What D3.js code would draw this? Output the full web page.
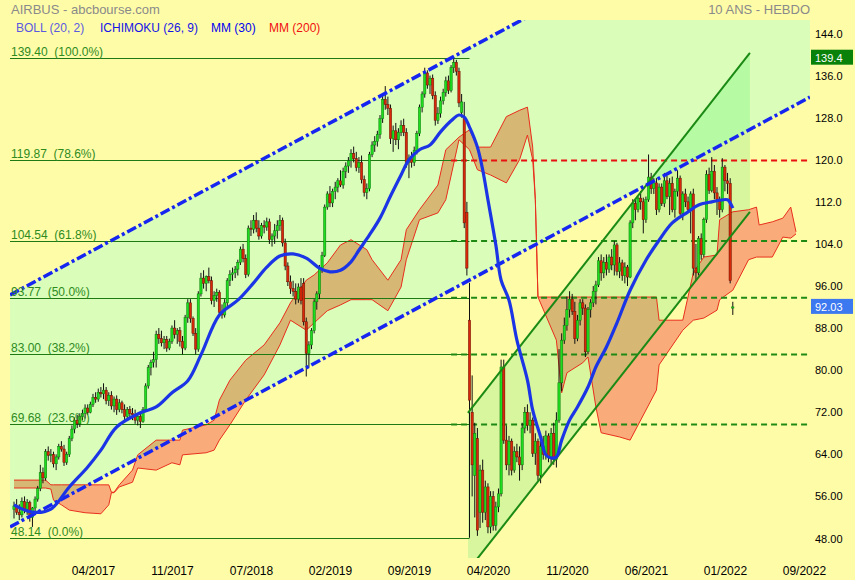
<!DOCTYPE html>
<html><head><meta charset="utf-8">
<script src="https://cdn.jsdelivr.net/npm/d3@7"></script>
<style>body{margin:0;background:#FFFCA8;}svg{display:block;}text{white-space:pre;}</style>
</head><body><svg id="c" width="855" height="580"></svg>
<script>
// ---------------- DATA ----------------
const open = [
53.5,54.2,53,52.5,55,53.5,54.8,52,53.8,55.5,
57.5,60.5,59.5,64.5,63.8,64,62.2,63.5,65.5,65,
62.5,64,67,68.8,70.5,69.8,71.2,71.8,72.8,72,
73.5,74.8,74.5,75.8,75.5,76.2,74.2,75.2,73.2,74.5,
72.5,73.8,72.5,71.2,72.5,71.8,71.5,70.5,71.2,70.2,
72.5,77,80.5,81.5,82,86.8,86,85.2,85.8,84.2,
85.5,88,86.8,87.5,85.5,84.2,90,92.8,89.8,87,
84,94.5,97.5,96.5,97.8,97,93.2,94.2,94.8,91,
90.5,92.8,97,98.2,98.5,99.2,100.5,103,101.2,98.2,
107,106.8,108.5,107,105.5,107.5,107.2,108.2,104.8,105.5,
106.5,107.5,108.5,104.2,99.8,96.8,95.5,95,93.5,95.8,
96.5,89.2,83.2,84.8,87.5,93,94.5,99.4,101.8,111,
113.5,111.8,114,114.8,116,115.2,117.8,118.8,119.8,121.2,
120.2,118.5,119.5,116.2,113.8,114.5,121,122.8,123.5,124.8,
127.8,131.5,130.5,129.8,124,125.5,123.8,125.2,126.5,125.2,
119.5,120.2,119.5,121.8,125,130,132.5,136.5,134.2,135.5,
132.2,127.5,128.8,131.2,132.8,135,133.2,137.5,138.5,136.8,
129,128,110,89.5,72,60,67,53,61,53,
57.8,50.2,56,50.5,54,56.5,80.6,66.7,62,66.5,
61,64.5,63.5,62,69,72,69.5,70.5,64.2,66.5,
60,65.5,64,67.5,63.5,68,63,70.5,77.6,85.7,
88.5,91.5,93.5,91.2,86,89.5,92.8,91.8,83.5,91.5,
92.8,95,96.2,100.8,98.5,100.5,99.2,101.5,100,103.8,
98.8,100.4,98,99.6,97.7,108,111.7,110.5,112.7,112,
108.6,112.4,116.7,114.5,115.6,110.5,114.8,111.7,116,113,
115.5,110.5,114,116.5,109.8,113.5,112,110.5,113.5,99.4,
98.5,105,102,108.6,117.2,114.2,117.8,113.7,112.4,110.5,
118.6,116,115.5,91.8];
const high = [
55,55.5,54.5,55.8,56,55.5,55.2,54,56,58,
62,61.5,65,65.5,65,64.5,64,66,66.5,65.8,
64.5,67.5,69.5,71,71.5,71.8,72.5,73.5,73.5,74,
75.5,75.8,76.5,76.8,77.5,76.8,75.8,76,75,75.2,
74.5,74.2,73.5,73,73.2,72.8,72.5,71.8,72,73,
77.5,81,82,83.5,87.5,88,87.5,86.5,86.5,86,
88.5,89.5,88,88.2,86.5,90.5,93.5,93.5,90.2,88,
95,98.5,99,98,99.5,97.8,95,95.5,95.2,92.5,
93.5,97.5,99,99.5,99.8,101,103.5,104,102,107.5,
108.5,109.5,110,108.5,108,108.5,109,108.8,106,107.8,
108.5,109.5,109,105,100.5,98,97,96.5,96.5,97.5,
97.5,90,85.5,88,93.5,95,100,102.5,111.5,114,
115,114.5,115.8,116.5,118,118.5,119.5,120.5,122,122.5,
121.5,120.5,120.8,117,115.5,121.5,123.5,124.5,125.5,128.5,
132.5,134,132,130.5,126.5,127,126,127.5,127.8,126,
121,121.5,122.5,125.5,130.5,133,137.5,137,136,136.2,
133,130,132,133.5,135.8,136,138,139.4,139,137.5,
132.5,131,112,96.6,79,70,69,62,63,59,
58.5,57,57,55,57.5,82,82,69.5,67.5,67,
65.5,66,65.5,70,73,73.5,72,71,68,67,
66.5,67.5,68.5,68,69,70,72,84,87,90,
94,95,94.5,93,90.5,93.5,93.5,92.5,92,93.5,
96,97,101.5,102,101.5,102,102,103,104.5,104.2,
101.5,101,100.5,100,108.5,112.5,112.5,113,114,112.8,
113,121,117.5,116.5,116.5,115.5,115.5,117.5,117,116.5,
116.8,114.5,118,117,114,114.5,113,114,114.5,104,
105.5,106,109,118,118.5,120.5,119,114.8,113,120.3,
119,117.5,116.5,93];
const low = [
51.8,52.5,51.5,52,52.8,52.5,51.2,50.2,53,55,
57,58.5,59,62.8,62.5,61.5,61,63,64.5,61.8,
62,63.5,66.5,68,69,69.2,70.5,70.8,71.5,71.8,
73,73.8,74,74.8,74.5,73.5,73.2,72.5,72,71.5,
72,71.8,70.5,70.8,71,70.5,69.8,69.5,69,70,
72,76.5,79,80.5,80.5,85,84.5,84,83.5,83.8,
85,86,85,84.5,83,83.8,89,89,86.5,83,
83.5,94,95.5,95,96.5,92.5,92,93,90.5,89.8,
90,92,96,97,97.5,98,100,100.5,97.5,97.8,
105.5,106,106.2,104.8,105,106,106.5,104,103.5,104,
105,106.5,103.5,99,96,94.5,94,92.5,92.8,92.5,
88.5,78.8,80.5,84,87,91.5,93.5,98.5,101.5,110.5,
111,111,112.5,113.8,114.8,114.5,116.5,117.5,118.5,119.5,
117.8,117.5,115.5,113,112.5,114,120.5,121.5,122.5,124,
127,129.5,128.5,123,121.5,122.8,122,124.5,124.5,118.5,
116.5,118.5,118.8,121,124.5,129,131.8,133.5,132.5,131.5,
126.5,126.8,128,130.5,132,132.5,132.8,136.5,136,130,
128,107,98,48.14,56,52,48.5,50,51,51.5,
49,49,49.5,49.5,53,56,66,61,60,60,
60.5,62.5,59,61,68,68.5,68,63.5,62,59,
58.5,63,63,62.5,62,62,61.5,70,76,85,
87.5,90,90.5,85,85.5,88.5,90.5,82.5,83,90,
92,92.5,95.8,97,97.5,98,98.5,99,98,98,
97.5,97,96.5,96,97.5,107,108.5,110,110.5,106,
108,112,113.5,113.5,109.5,110,111.2,111,112.5,109.5,
110,109,113,109.5,108.5,111,110,106,98,97,
98,101,101.5,108,113.5,113.8,112.5,109.5,109,110,
114,113.5,96.5,90.5];
const close = [
54.2,53,52.5,55,53.5,54.8,52,53.8,55.5,57.5,
60.5,59.5,64.5,63.8,64,62.2,63.5,65.5,65,62.5,
64,67,68.8,70.5,69.8,71.2,71.8,72.8,72,73.5,
74.8,74.5,75.8,75.5,76.2,74.2,75.2,73.2,74.5,72.5,
73.8,72.5,71.2,72.5,71.8,71.5,70.5,71.2,70.2,72.5,
77,80.5,81.5,82,86.8,86,85.2,85.8,84.2,85.5,
88,86.8,87.5,85.5,84.2,90,92.8,89.8,87,84,
94.5,97.5,96.5,97.8,97,93.2,94.2,94.8,91,90.5,
92.8,97,98.2,98.5,99.2,100.5,103,101.2,98.2,107,
106.8,108.5,107,105.5,107.5,107.2,108.2,104.8,105.5,106.5,
107.5,108.5,104.2,99.8,96.8,95.5,95,93.5,95.8,93.2,
89.2,83.2,84.8,87.5,93,94.5,99.4,101.8,111,113.5,
111.8,114,114.8,116,115.2,117.8,118.8,119.8,121.2,120.2,
118.5,119.5,116.2,113.8,114.5,121,122.8,123.5,124.8,127.8,
131.5,130.5,129.8,124,125.5,123.8,125.2,126.5,125.2,119.5,
120.2,119.5,121.8,125,130,132.5,136.5,134.2,135.5,132.2,
127.5,128.8,131.2,132.8,135,133.2,137.5,138.5,136.8,130.8,
131,108,99.4,74.3,62,68,49.6,61,53,57.8,
50.2,56,50.5,54,56.5,80.6,66.7,62,66.5,61,
64.5,63.5,62,69,72,69.5,70.5,64.2,66.5,60,
65.5,64,67.5,63.5,68,63,70.5,77.6,85.7,88.5,
91.5,93.5,91.2,86,89.5,92.8,91.8,83.5,91.5,92.8,
95,96.2,100.8,98.5,100.5,99.2,101.5,100,103.8,98.8,
100.4,98,99.6,97.7,108,111.7,110.5,112.7,112,108.6,
112.4,116.7,114.5,115.6,110.5,114.8,111.7,116,113,115.5,
110.5,114,116.5,109.8,113.5,112,110.5,113.5,99.4,98.5,
105,102,108.6,117.2,114.2,117.8,113.7,112.4,110.5,118.6,
116,115.5,97,92.03];

// Moving average MM(30): [week index, value]
const ma30 = [[0,54.4],[7,53],[14,53.6],[21,57.8],[28,61.6],[33,64.8],[39,69.2],[48,71.9],[54,73],[60,75.7],[66,78],[71,82.9],[78,90.5],[85,93.3],[91,96.6],[96,99.6],[101,101.7],[106,102.1],[111,101.3],[116,99.4],[120,98.7],[124,99],[128,100.6],[131,102.8],[135,105.7],[139,108.9],[143,113.1],[147,117.1],[150,120],[154,121.9],[158,122.8],[162,125.3],[166,127.4],[169,128.5],[171,128.1],[173,126.2],[176,122.4],[178,118.1],[180,112.4],[183,103.8],[185,97.1],[188,93.3],[191,85.7],[195,78.1],[197,72.4],[200,67.3],[202,63.9],[204,63.3],[206,63.5],[208,66.7],[211,70.5],[214,73],[218,76.8],[221,80.6],[225,84.4],[229,89],[234,95.2],[240,100.9],[245,104.7],[250,108],[256,110.1],[260,111.4],[265,112],[271,112.4],[272,111.8],[273,110.8]];

// Ichimoku cloud (26, 9), projected 26 weeks ahead
const cloudIdx = [0,12,14,15,18,21,27,33,36,37,38,40,45,47,54,60,63,64,73,76,78,82,88,95,101,105,111,114,119,124,128,134,136,142,147,149,154,161,164,169,173,176,181,187,192,195,197,198,199,206,208,210,216,218,221,223,230,234,244,245,254,258,262,267,268,273,279,282,283,288,292,295,297];
const spanA = [59.1,59.1,58.2,58.2,58.2,58.2,58.2,58.2,58.2,56.8,56.8,58.2,61.0,63.9,66.7,66.7,66.7,68.6,69.6,70.5,74.3,78.1,81.9,84.8,89.0,92.8,97.1,98.1,100.4,103.8,104.8,102.9,101.0,97.1,101.0,106.7,110.5,115.2,121.9,124.3,125.7,122.4,122.4,128.2,129.4,130.0,122.4,112.4,93.9,93.9,93.9,93.9,93.9,93.9,93.9,93.9,93.9,93.9,93.9,89.5,89.5,98.5,101.5,101.9,108.6,110.1,110.5,111.0,107.6,108.2,108.9,111.0,106.3];
const spanB = [57.6,57.6,57.4,55.3,54.4,53.4,52.9,52.7,54.4,56.7,56.7,57.8,58.7,61.4,61.0,62.4,62.0,63.9,64.3,64.8,66.7,69.6,74.3,79.1,84.8,89.5,87.6,89.0,91.3,92.4,93.4,93.4,93.4,91.3,95.8,101.0,108.6,109.9,112.4,123.8,121.9,118.1,117.1,115.6,120.0,124.7,120.0,112.4,93.9,85.7,75.7,79.5,81.4,82.5,73.0,68.1,67.3,66.7,76.2,81.0,87.6,89.5,89.9,91.4,93.4,95.2,101.0,101.5,101.5,101.5,105.3,105.1,105.9];

// Fibonacci retracement (low 48.14 -> high 139.40)
const fibLevels = [139.40, 119.87, 104.54, 93.77, 83.00, 69.68, 48.14];
const fibPct = ["100.0%", "78.6%", "61.8%", "50.0%", "38.2%", "23.6%", "0.0%"];
const fibEndIdx = 173;
// horizontal dashed levels
const levelValues = [119.87, 104.54, 93.77, 83.00, 69.68];
const levelKind = ["res", "sup", "sup", "sup", "sup"];
const levelStartIdx = 166;
// trend channels: [startIdx, startVal, endIdx, endVal]
const blueLower = [-1.5, 50.2, 302.3, 131.9];
const blueUpper = [-1.5, 94.3, 302.3, 176.0];
const greenLower = [172.4, 41.9, 279.5, 110.1];
const greenUpper = [172.4, 71.9, 279.5, 140.3];

const yTicks = [144, 136, 128, 120, 112, 104, 96, 88, 80, 72, 64, 56, 48];
const yTickLabels = ["144.0","136.0","128.0","120.0","112.0","104.0","96.00","88.00","80.00","72.00","64.00","56.00","48.00"];
const xTickIdx = [30, 60, 90, 120, 150, 180, 210, 240, 270, 300];
const xTickLabels = ["04/2017","11/2017","07/2018","02/2019","09/2019","04/2020","11/2020","06/2021","01/2022","09/2022"];
const lastPrice = 92.03;
const highTag = 139.4;
const legendItems = ["BOLL (20, 2)", "ICHIMOKU (26, 9)", "MM (30)", "MM (200)"];

// ---------------- CHART ----------------
const W = 855, H = 580;
const plot = {l: 10, r: 810, t: 20, b: 558};
const svg = d3.select("#c");
const x = d3.scaleLinear().domain([0, 300]).range([14, 803.9]);
const y = d3.scaleLinear().domain([48, 144]).range([538.5, 33.5]);

const defs = svg.append("defs");
defs.append("clipPath").attr("id", "plotClip").append("rect")
  .attr("x", plot.l).attr("y", plot.t).attr("width", plot.r - plot.l).attr("height", plot.b - plot.t);
const chanPoly = (lo, hi) => [[x(lo[0]), y(lo[1])], [x(lo[2]), y(lo[3])], [x(hi[2]), y(hi[3])], [x(hi[0]), y(hi[1])]];
const bluePts = chanPoly(blueLower, blueUpper);
const greenPts = chanPoly(greenLower, greenUpper);
defs.append("clipPath").attr("id", "blueClip").append("polygon").attr("points", bluePts.join(" "));
defs.append("clipPath").attr("id", "greenClip").append("polygon").attr("points", greenPts.join(" "));

svg.append("rect").attr("width", W).attr("height", H).attr("fill", "#FFFCA8");
const g = svg.append("g").attr("clip-path", "url(#plotClip)");

// channel fills
g.append("polygon").attr("points", bluePts.join(" ")).attr("fill", "#DAFDBA");
g.append("polygon").attr("points", greenPts.join(" ")).attr("fill", "#D7F69D");
g.append("g").attr("clip-path", "url(#blueClip)")
  .append("polygon").attr("points", greenPts.join(" ")).attr("fill", "#B6FBA4");

// cloud
const cloudData = cloudIdx.map((d, i) => ({i: d, a: spanA[i], b: spanB[i]}));
const area = d3.area().x(d => x(d.i)).y0(d => y(d.a)).y1(d => y(d.b));
g.append("path").attr("d", area(cloudData)).attr("fill", "#F9AB7A");
g.append("g").attr("clip-path", "url(#blueClip)").append("path").attr("d", area(cloudData)).attr("fill", "#D6B874");
g.append("g").attr("clip-path", "url(#greenClip)").append("path").attr("d", area(cloudData)).attr("fill", "#D6B874");
const lineA = d3.line().x(d => x(d.i)).y(d => y(d.a));
const lineB = d3.line().x(d => x(d.i)).y(d => y(d.b));
g.append("path").attr("d", lineA(cloudData)).attr("fill", "none").attr("stroke", "#E8301E").attr("stroke-width", 1);
g.append("path").attr("d", lineB(cloudData)).attr("fill", "none").attr("stroke", "#E8301E").attr("stroke-width", 1);

// fib lines
fibLevels.forEach((v, k) => {
  g.append("line").attr("x1", plot.l).attr("x2", x(fibEndIdx)).attr("y1", Math.round(y(v)) + 0.5).attr("y2", Math.round(y(v)) + 0.5)
    .attr("stroke", "#1F7A14").attr("stroke-width", 1);
  svg.append("text").attr("x", 11).attr("y", Math.round(y(v)) - 2)
    .attr("font-family", "Liberation Sans, Arial, sans-serif").attr("font-size", 12).attr("fill", "#2E8B1E")
    .text(v.toFixed(2) + "  (" + fibPct[k] + ")");
});
// dashed levels
levelValues.forEach((v, k) => {
  g.append("line").attr("x1", x(levelStartIdx)).attr("x2", plot.r).attr("y1", y(v)).attr("y2", y(v))
    .attr("stroke", levelKind[k] === "res" ? "#E81010" : "#1E8A14").attr("stroke-width", 2)
    .attr("stroke-dasharray", "6,4");
});

// candles
const cw = 2.3;
const cg = g.append("g");
close.forEach((c, i) => {
  const o = open[i], up = c >= o;
  const cx = x(i);
  cg.append("line").attr("x1", cx).attr("x2", cx).attr("y1", y(high[i])).attr("y2", y(low[i]))
    .attr("stroke", "#101010").attr("stroke-width", 1);
  const top = y(Math.max(o, c)), bot = y(Math.min(o, c));
  cg.append("rect").attr("x", cx - cw / 2).attr("y", top).attr("width", cw).attr("height", Math.max(1, bot - top))
    .attr("fill", up ? "#1EDC1E" : "#D8280A").attr("stroke", up ? "#0B7A0B" : "#6A1000").attr("stroke-width", 0.5);
});

// channel lines
const seg = (s) => [[x(s[0]), y(s[1])], [x(s[2]), y(s[3])]];
[greenLower, greenUpper].forEach(s => {
  g.append("path").attr("d", d3.line()(seg(s))).attr("stroke", "#1A8A14").attr("stroke-width", 2).attr("fill", "none");
});
[blueLower, blueUpper].forEach(s => {
  g.append("path").attr("d", d3.line()(seg(s))).attr("stroke", "#1626F0").attr("stroke-width", 3.5)
    .attr("fill", "none").attr("stroke-dasharray", "10,3,3,3");
});

// MM30
g.append("path").attr("d", d3.line().curve(d3.curveCatmullRom).x(d => x(d[0])).y(d => y(d[1]))(ma30))
  .attr("fill", "none").attr("stroke", "#1A34E6").attr("stroke-width", 3.2).attr("stroke-linejoin", "round");

// axes
const yAxis = d3.axisRight(y).tickValues(yTicks).tickFormat((d, i) => yTickLabels[i]).tickSize(0).tickPadding(5);
const ya = svg.append("g").attr("transform", `translate(${plot.r},0)`).call(yAxis);
ya.select(".domain").remove();
ya.selectAll("text").attr("font-family", "Liberation Sans, Arial, sans-serif").attr("font-size", 11).attr("fill", "#000");

const xAxis = d3.axisBottom(x).tickValues(xTickIdx).tickFormat((d, i) => xTickLabels[i]).tickSize(0).tickPadding(4);
const xa = svg.append("g").attr("transform", `translate(0,${562})`).call(xAxis);
xa.select(".domain").remove();
xa.selectAll("text").attr("font-family", "Liberation Sans Narrow, Arial Narrow, sans-serif").attr("font-size", 12).attr("fill", "#000");

// price tags
function tag(v, txt, bg) {
  const yy = y(v);
  svg.append("rect").attr("x", 811).attr("y", yy - 8).attr("width", 42).attr("height", 15).attr("fill", bg);
  svg.append("text").attr("x", 815).attr("y", yy + 4).attr("font-family", "Liberation Sans, Arial, sans-serif")
    .attr("font-size", 11).attr("fill", "#fff").text(txt);
}
tag(highTag, "139.4", "#0A820A");
tag(lastPrice, lastPrice.toFixed(2), "#3C78F0");

// titles
svg.append("text").attr("x", 11).attr("y", 14).attr("font-family", "Liberation Sans, Arial, sans-serif")
  .attr("font-size", 13).attr("fill", "#8A8A8A").text("AIRBUS - abcbourse.com");
svg.append("text").attr("x", 810).attr("y", 14).attr("text-anchor", "end").attr("font-family", "Liberation Sans, Arial, sans-serif")
  .attr("font-size", 13).attr("fill", "#8A8A8A").text("10 ANS - HEBDO");
const legColors = ["#5A5AE0", "#1414E6", "#0000F0", "#F01010"];
const legX = [16, 100, 211, 269];
legendItems.forEach((t, k) => {
  svg.append("text").attr("x", legX[k]).attr("y", 32).attr("font-family", "Liberation Sans, Arial, sans-serif")
    .attr("font-size", 12).attr("fill", legColors[k]).text(t);
});
</script></body></html>
